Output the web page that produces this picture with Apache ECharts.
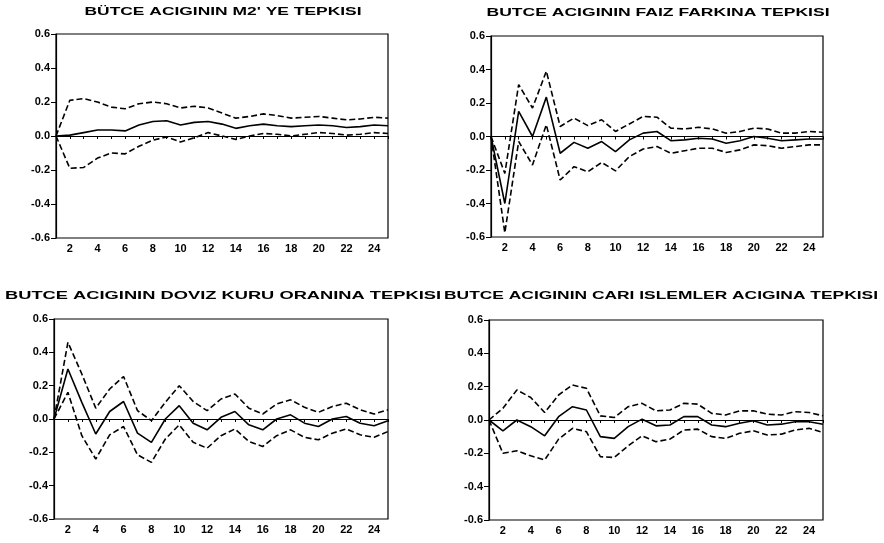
<!DOCTYPE html>
<html>
<head>
<meta charset="utf-8">
<script src="https://cdn.jsdelivr.net/npm/echarts@6/dist/echarts.min.js"></script>
<style>html,body{margin:0;padding:0;background:#fff}#c{width:884px;height:543px}</style>
</head>
<body>
<div id="c"></div>
<script>
const periods = [1,2,3,4,5,6,7,8,9,10,11,12,13,14,15,16,17,18,19,20,21,22,23,24,25];
const yTicks = [-0.6,-0.4,-0.2,0.0,0.2,0.4,0.6];
const titles = [
  "BÜTCE ACIGININ M2' YE TEPKISI",
  "BUTCE ACIGININ FAIZ FARKINA TEPKISI",
  "BUTCE ACIGININ DOVIZ KURU ORANINA TEPKISI",
  "BUTCE ACIGININ CARI ISLEMLER ACIGINA TEPKISI"
];
// Panel 1: M2
const m2Resp  = [0,0.005,0.02,0.035,0.035,0.03,0.065,0.085,0.09,0.065,0.08,0.085,0.07,0.045,0.06,0.07,0.06,0.055,0.06,0.065,0.06,0.05,0.055,0.065,0.06];
const m2Upper = [0,0.21,0.22,0.2,0.17,0.16,0.19,0.2,0.19,0.165,0.175,0.165,0.135,0.105,0.115,0.13,0.12,0.105,0.11,0.115,0.105,0.095,0.1,0.11,0.105];
const m2Lower = [0,-0.19,-0.185,-0.13,-0.1,-0.105,-0.06,-0.025,-0.005,-0.035,-0.01,0.02,0.0,-0.02,0.0,0.015,0.01,0.0,0.01,0.02,0.015,0.005,0.01,0.02,0.015];
// Panel 2: Faiz farki
const faizResp  = [0,-0.4,0.15,0.0,0.235,-0.1,-0.035,-0.07,-0.03,-0.09,-0.02,0.02,0.03,-0.025,-0.02,-0.01,-0.015,-0.04,-0.025,0.0,-0.01,-0.025,-0.02,-0.015,-0.015];
const faizUpper = [0,-0.22,0.31,0.17,0.39,0.06,0.11,0.065,0.1,0.03,0.075,0.12,0.115,0.05,0.045,0.055,0.045,0.02,0.03,0.05,0.045,0.02,0.02,0.03,0.025];
const faizLower = [0,-0.575,-0.03,-0.17,0.07,-0.26,-0.18,-0.21,-0.155,-0.205,-0.12,-0.075,-0.06,-0.1,-0.085,-0.07,-0.07,-0.095,-0.08,-0.05,-0.055,-0.07,-0.06,-0.05,-0.05];
// Panel 3: Doviz kuru
const dovizResp  = [0,0.3,0.1,-0.09,0.045,0.105,-0.085,-0.14,0.0,0.08,-0.025,-0.065,0.01,0.045,-0.035,-0.065,0.0,0.025,-0.025,-0.045,0.0,0.015,-0.025,-0.04,-0.01];
const dovizUpper = [0,0.46,0.27,0.065,0.18,0.255,0.05,-0.01,0.1,0.2,0.105,0.05,0.12,0.15,0.065,0.03,0.09,0.115,0.07,0.04,0.075,0.095,0.055,0.03,0.055];
const dovizLower = [0,0.16,-0.1,-0.24,-0.095,-0.045,-0.215,-0.26,-0.12,-0.035,-0.14,-0.175,-0.1,-0.06,-0.135,-0.165,-0.1,-0.065,-0.11,-0.125,-0.085,-0.06,-0.095,-0.11,-0.075];
// Panel 4: Cari islemler acigi
const cariResp  = [0,-0.065,0.0,-0.04,-0.095,0.02,0.08,0.06,-0.1,-0.11,-0.04,0.005,-0.035,-0.03,0.02,0.02,-0.03,-0.04,-0.02,-0.005,-0.03,-0.025,-0.01,-0.01,-0.025];
const cariUpper = [0,0.07,0.18,0.135,0.045,0.15,0.21,0.19,0.025,0.015,0.08,0.1,0.055,0.06,0.1,0.095,0.04,0.03,0.055,0.055,0.035,0.03,0.05,0.045,0.025];
const cariLower = [0,-0.2,-0.185,-0.215,-0.24,-0.115,-0.05,-0.07,-0.22,-0.225,-0.155,-0.095,-0.13,-0.115,-0.06,-0.055,-0.1,-0.11,-0.08,-0.065,-0.09,-0.085,-0.06,-0.05,-0.075];

const panels = [
  {resp: m2Resp, up: m2Upper, lo: m2Lower},
  {resp: faizResp, up: faizUpper, lo: faizLower},
  {resp: dovizResp, up: dovizUpper, lo: dovizLower},
  {resp: cariResp, up: cariUpper, lo: cariLower}
];
const grids = [
  {left: 56, top: 34, width: 332, height: 204},
  {left: 491, top: 36, width: 332, height: 201},
  {left: 54, top: 319, width: 334, height: 200},
  {left: 489, top: 320, width: 334, height: 200}
];
const titlePos = [
  {cx: 223, cy: 12, w: 277},
  {cx: 658, cy: 13, w: 343},
  {cx: 223, cy: 296, w: 436},
  {cx: 661, cy: 296, w: 434}
];
const FF = '"Liberation Sans", Arial, sans-serif';
const FONT = 'bold 11px ' + FF;
const mctx = document.createElement('canvas').getContext('2d');
mctx.font = FONT;

const pair = arr => periods.map((p, i) => [p, arr[i]]);

const option = {
  animation: false,
  backgroundColor: '#fff',
  grid: grids.map(g => Object.assign({show: true, borderColor: '#000', borderWidth: 1.2, containLabel: false}, g)),
  xAxis: grids.map((g, i) => ({
    type: 'value', gridIndex: i, min: 1, max: 25, interval: 1,
    axisLine: {show: true, lineStyle: {color: '#000', width: 1.2}},
    axisTick: {show: true, length: 3, lineStyle: {color: '#000', width: 1}},
    axisLabel: {color: '#000', fontSize: 11, fontWeight: 'bold', margin: 5, fontFamily: FF,
      formatter: v => (v % 2 === 0 ? String(v) : '')},
    splitLine: {show: false}
  })),
  yAxis: grids.map((g, i) => ({
    type: 'value', gridIndex: i, min: yTicks[0], max: yTicks[yTicks.length - 1], interval: 0.2,
    axisLine: {show: true, lineStyle: {color: '#000', width: 1.2}},
    axisTick: {show: true, length: 5, lineStyle: {color: '#000', width: 1}},
    axisLabel: {color: '#000', fontSize: 11, fontWeight: 'bold', margin: 6, fontFamily: FF,
      formatter: v => v.toFixed(1)},
    splitLine: {show: false}
  })),
  series: [],
  graphic: titles.map((t, i) => {
    const w = mctx.measureText(t).width;
    return {
      type: 'text', x: titlePos[i].cx, y: titlePos[i].cy,
      scaleX: titlePos[i].w / w, originX: 0, originY: 0,
      style: {text: t, font: FONT, fill: '#000', textAlign: 'center', textVerticalAlign: 'middle'}
    };
  })
};

panels.forEach((p, i) => {
  option.series.push({
    type: 'line', xAxisIndex: i, yAxisIndex: i, data: pair(p.resp), showSymbol: false,
    lineStyle: {color: '#000', width: 1.6, type: 'solid'}, z: 3,
    markLine: {silent: true, symbol: 'none', label: {show: false},
      lineStyle: {color: '#000', width: 1, type: 'solid'}, data: [{yAxis: 0}]}
  });
  option.series.push({
    type: 'line', xAxisIndex: i, yAxisIndex: i, data: pair(p.up), showSymbol: false,
    lineStyle: {color: '#000', width: 1.6, type: [6, 3]}
  });
  option.series.push({
    type: 'line', xAxisIndex: i, yAxisIndex: i, data: pair(p.lo), showSymbol: false,
    lineStyle: {color: '#000', width: 1.6, type: [6, 3]}
  });
});

const chart = echarts.init(document.getElementById('c'), null, {renderer: 'canvas'});
chart.setOption(option);
</script>
</body>
</html>
